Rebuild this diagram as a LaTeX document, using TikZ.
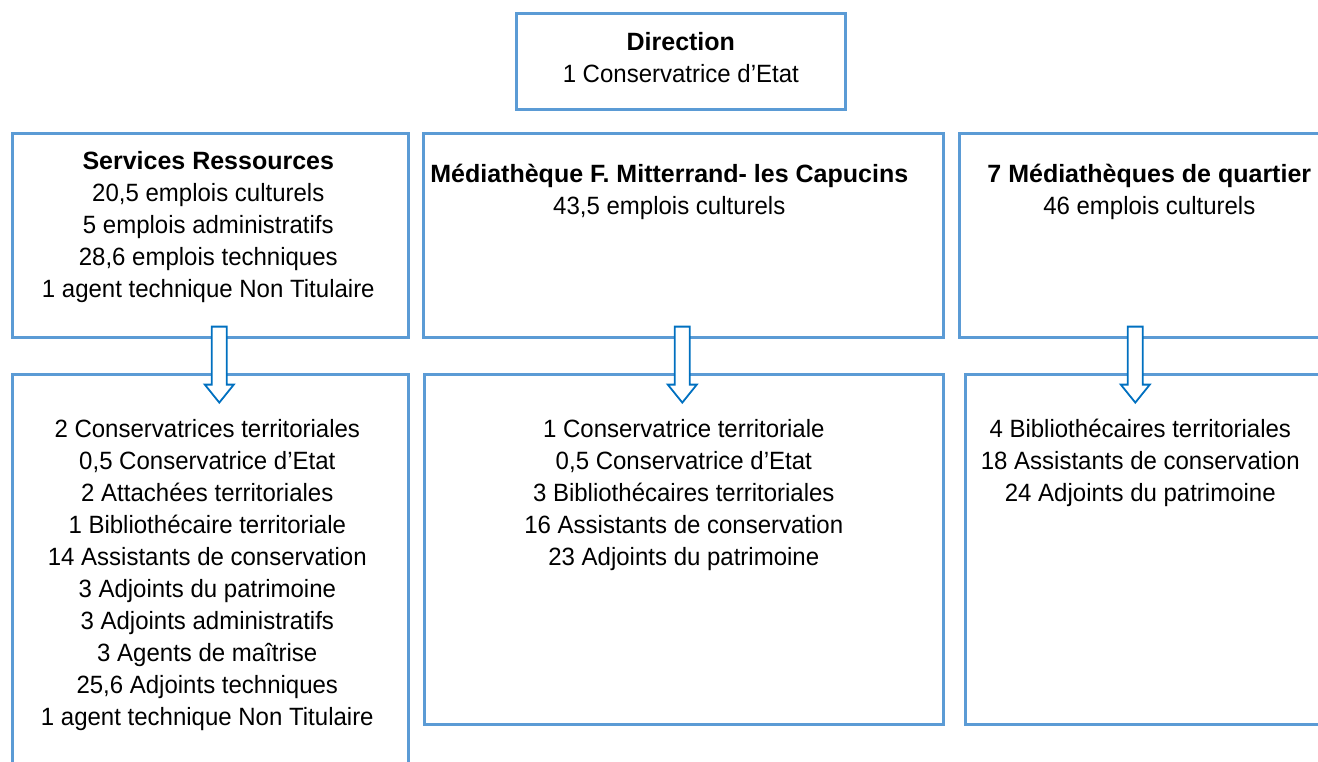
\documentclass[tikz,border=0pt]{standalone}
\usepackage{fontspec}
\setmainfont{Liberation Sans}[UprightFeatures={FakeStretch=0.96}]
\usetikzlibrary{positioning,calc}

\definecolor{boxblue}{RGB}{91,155,213}
\definecolor{arrowblue}{RGB}{0,112,192}

\tikzset{
  unitbox/.style={draw=boxblue, line width=2.6pt, inner sep=0pt, anchor=north west},
  unittext/.style={align=center, inner sep=0pt, anchor=north, font=\fontsize{25}{32}\selectfont},
  downarrow/.style={draw=arrowblue, fill=white, line width=1.8pt, line join=miter},
}

\begin{document}
\begin{tikzpicture}[x=1pt,y=-1pt]
  \useasboundingbox (0,0) rectangle (1318,762);
  \clip (0,0) rectangle (1318,762);

  % boxes
  \node[unitbox, minimum width=329pt, minimum height=96pt] (dir) at (515,12) {};
  \node[unitbox, minimum width=396pt, minimum height=204pt] (res) at (11,132) {};
  \node[unitbox, minimum width=520pt, minimum height=204pt] (cap) at (422,132) {};
  \node[unitbox, minimum width=380pt, minimum height=204pt] (qua) at (958,132) {};
  \node[unitbox, minimum width=396pt, minimum height=420pt] (resd) at (11,373) {};
  \node[unitbox, minimum width=519pt, minimum height=350pt] (capd) at (423,373) {};
  \node[unitbox, minimum width=374pt, minimum height=350pt] (quad) at (964,373) {};

  % texts
  \node[unittext] (dirtxt) at ($(dir.north)+(0,20)$)
    {\textbf{Direction}\\1 Conservatrice d’Etat};
  \node[unittext] (restxt) at ($(res.north)+(-2,19)$)
    {\textbf{Services Ressources}\\20,5 emplois culturels\\5 emplois administratifs\\
     28,6 emplois techniques\\1 agent technique Non Titulaire};
  \node[unittext] (captxt) at ($(cap.north)+(-14,32)$)
    {\textbf{Médiathèque F. Mitterrand- les Capucins}\\43,5 emplois culturels};
  \node[unittext] (quatxt) at ($(qua.north)+(0,32)$)
    {\textbf{7 Médiathèques de quartier}\\46 emplois culturels};
  \node[unittext] (resdtxt) at ($(resd.north)+(-3,46)$)
    {2 Conservatrices territoriales\\0,5 Conservatrice d’Etat\\2 Attachées territoriales\\
     1 Bibliothécaire territoriale\\14 Assistants de conservation\\3 Adjoints du patrimoine\\
     3 Adjoints administratifs\\3 Agents de maîtrise\\25,6 Adjoints techniques\\
     1 agent technique Non Titulaire};
  \node[unittext] (capdtxt) at ($(capd.north)+(0,46)$)
    {1 Conservatrice territoriale\\0,5 Conservatrice d’Etat\\3 Bibliothécaires territoriales\\
     16 Assistants de conservation\\23 Adjoints du patrimoine};
  \node[unittext] (quadtxt) at ($(quad.north)+(-12,46)$)
    {4 Bibliothécaires territoriales\\18 Assistants de conservation\\24 Adjoints du patrimoine};

  % block arrows
  \coordinate (a1) at ($(res.south)+(9,-12)$);
  \coordinate (a2) at ($(cap.south)+(-1,-12)$);
  \coordinate (a3) at ($(qua.south)+(-14,-12)$);
  \foreach \a in {a1,a2,a3}
    \draw[downarrow] ($(\a)+(-7.5,0)$) -- ++(0,58) -- ++(-7,0) -- ++(14.5,18)
      -- ++(14.5,-18) -- ++(-7,0) -- ++(0,-58) -- cycle;
\end{tikzpicture}
\end{document}
